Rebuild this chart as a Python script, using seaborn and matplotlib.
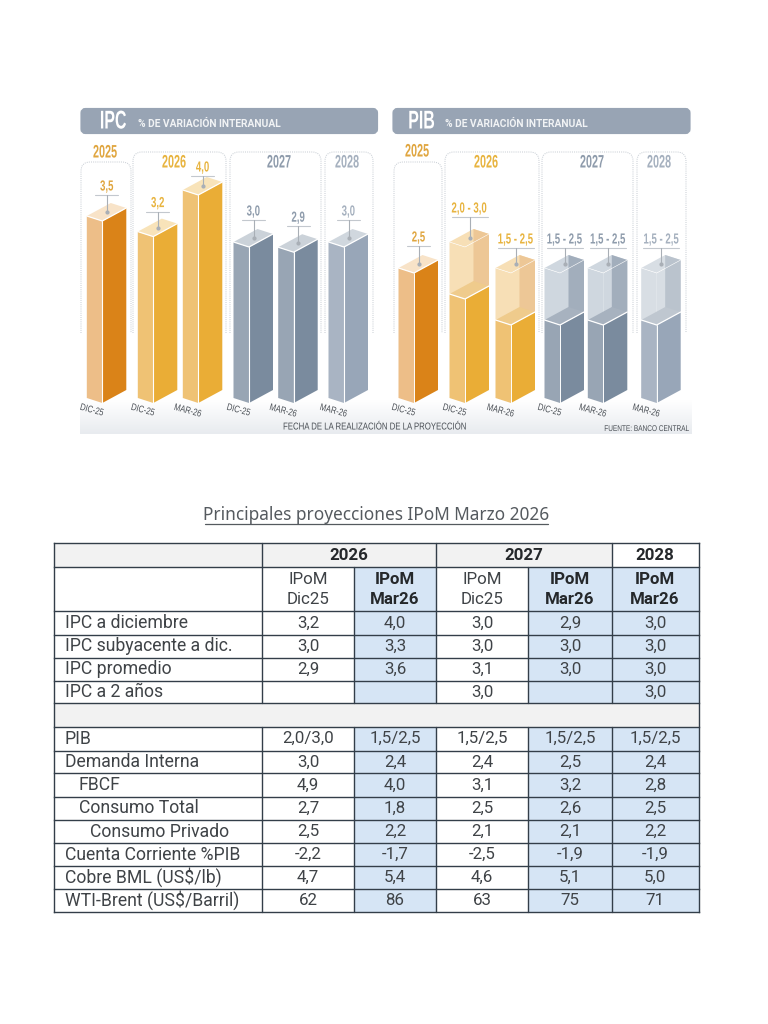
import matplotlib
matplotlib.use("Agg")
import matplotlib.pyplot as plt
from matplotlib.colors import LinearSegmentedColormap
from matplotlib.patches import FancyBboxPatch, PathPatch, Polygon, Rectangle
from matplotlib.path import Path
from matplotlib.patheffects import AbstractPathEffect
from matplotlib.transforms import Affine2D
import numpy as np
import seaborn as sns

# --- datos ---
ipc_years = ["2025", "2026", "2026", "2027", "2027", "2028"]
ipc_dates = ["DIC-25", "DIC-25", "MAR-26", "DIC-25", "MAR-26", "MAR-26"]
ipc_values = [3.5, 3.2, 4.0, 3.0, 2.9, 3.0]
ipc_labels = ["3,5", "3,2", "4,0", "3,0", "2,9", "3,0"]

pib_years = ["2025", "2026", "2026", "2027", "2027", "2028"]
pib_dates = ["DIC-25", "DIC-25", "MAR-26", "DIC-25", "MAR-26", "MAR-26"]
pib_low = [2.5, 2.0, 1.5, 1.5, 1.5, 1.5]
pib_high = [2.5, 3.0, 2.5, 2.5, 2.5, 2.5]
pib_labels = ["2,5", "2,0 - 3,0", "1,5 - 2,5", "1,5 - 2,5", "1,5 - 2,5", "1,5 - 2,5"]

row_labels = ["IPC a diciembre", "IPC subyacente a dic.", "IPC promedio", "IPC a 2 años", "",
              "PIB", "Demanda Interna", "FBCF", "Consumo Total", "Consumo Privado",
              "Cuenta Corriente %PIB", "Cobre BML (US$/lb)", "WTI-Brent (US$/Barril)"]
dic25_2026 = ["3,2", "3,0", "2,9", "", "", "2,0/3,0", "3,0", "4,9", "2,7", "2,5", "-2,2", "4,7", "62"]
mar26_2026 = ["4,0", "3,3", "3,6", "", "", "1,5/2,5", "2,4", "4,0", "1,8", "2,2", "-1,7", "5,4", "86"]
dic25_2027 = ["3,0", "3,0", "3,1", "3,0", "", "1,5/2,5", "2,4", "3,1", "2,5", "2,1", "-2,5", "4,6", "63"]
mar26_2027 = ["2,9", "3,0", "3,0", "", "", "1,5/2,5", "2,5", "3,2", "2,6", "2,1", "-1,9", "5,1", "75"]
mar26_2028 = ["3,0", "3,0", "3,0", "3,0", "", "1,5/2,5", "2,4", "2,8", "2,5", "2,2", "-1,9", "5,0", "71"]

# --- estilo y posiciones (en pixeles de la figura) ---
W, H = 768, 1024
BASE_Y = 403
TOP_Y = 95
PX_PER_UNIT = 52.0
LEFT_W, RIGHT_W = 15.5, 24.0
LEFT_DROP, RIGHT_RISE = 5.0, 13.0

ipc_corners = [102.3, 153.3, 198.3, 249, 293.7, 344]
pib_corners = [414, 465, 511, 560, 603.3, 656.7]
ipc_gaps = [26, 25, 19, 27, 26, 27]
pib_gaps = [27, 30, 25, 25, 25, 25]

year_colors = {
    "2025": dict(left="#EDBE88", right="#DA8318", top="#F8E3C8", text="#E0A640",
                 pale="#F7DFB6", back="#EDC796", level="#EFCB8C"),
    "2026": dict(left="#EFC274", right="#EAAD36", top="#F8E3B9", text="#E8B440",
                 pale="#F7DFB6", back="#EDC796", level="#EFCB8C"),
    "2027": dict(left="#98A5B4", right="#7A8B9E", top="#CBD2D9", text="#8F9CAC",
                 pale="#CFD7DF", back="#A2AEBC", level="#A7B2BF"),
    "2028": dict(left="#A9B4C3", right="#98A6B8", top="#D0D7DE", text="#A6B1BF",
                 pale="#D8DEE4", back="#BAC3CD", level="#BFC7D0"),
}

NARROW = "Liberation Sans"
TABLE_FONT = "Roboto"

sns.set_theme(style="white")
plt.rcParams["font.family"] = ["Noto Sans", "DejaVu Sans"]

fig = plt.figure(figsize=(W / 100, H / 100), dpi=100, facecolor="white")


class Narrow(AbstractPathEffect):
    # no hay fuente condensada instalada: se comprime el texto a lo ancho
    def __init__(self, factor, angle=0):
        super().__init__()
        self.factor = factor
        self.angle = angle

    def draw_path(self, renderer, gc, tpath, affine, rgbFace=None):
        box = affine.transform_path(tpath).get_extents()
        cx, cy = (box.x0 + box.x1) / 2, (box.y0 + box.y1) / 2
        squeeze = (Affine2D().translate(-cx, -cy).rotate_deg(-self.angle)
                   .scale(self.factor, 1).rotate_deg(self.angle).translate(cx, cy))
        renderer.draw_path(gc, tpath, affine + squeeze, rgbFace)


def narrow_text(ax, x, y, s, factor, **kws):
    t = ax.text(x, y, s, **kws)
    t.set_path_effects([Narrow(factor)])
    return t


def px_axes(x0, x1, y0, y1):
    # ejes cuyo rectangulo se da en pixeles (y hacia abajo)
    return fig.add_axes([x0 / W, 1 - y1 / H, (x1 - x0) / W, (y1 - y0) / H])


# capa de fondo en pixeles: cabeceras, llaves, tabla
bg = px_axes(0, W, 0, H)
bg.set_zorder(0)
grad = np.linspace(0, 1, 60).reshape(-1, 1)
grad_cmap = LinearSegmentedColormap.from_list("fondo", ["#FFFFFF", "#E8EBEF"])
bg.imshow(grad, extent=(80, 692, 434, 400), aspect="auto", cmap=grad_cmap, zorder=0)
bg.set_xlim(0, W)
bg.set_ylim(H, 0)
bg.axis("off")


def header(x0, x1, title, title_x, sub_x):
    bg.add_patch(FancyBboxPatch((x0 + 3, 110), x1 - x0 - 6, 22, boxstyle="round,pad=0,rounding_size=3",
                                mutation_aspect=1, linewidth=3, edgecolor="#98A4B4", facecolor="#98A4B4"))
    narrow_text(bg, title_x, 121.5, title, 0.62, color="white", fontsize=18.5, fontweight="bold", family=NARROW,
                ha="center", va="center")
    bg.text(sub_x, 124, "% DE VARIACIÓN INTERANUAL", color="#F1F3F5", fontsize=7.4, fontweight="bold",
            family="Roboto", ha="center", va="center")


def bracket(x0, x1, top):
    r = 9
    low = 333
    verts = [(x0, low), (x0, top + r), (x0, top), (x0 + r, top), (x1 - r, top), (x1, top), (x1, top + r), (x1, low)]
    codes = [Path.MOVETO, Path.LINETO, Path.CURVE3, Path.CURVE3, Path.LINETO, Path.CURVE3, Path.CURVE3, Path.LINETO]
    bg.add_patch(PathPatch(Path(verts, codes), fill=False, edgecolor="#C4CAD1", linewidth=0.7,
                           linestyle=(0, (1, 1.2))))


header(79.5, 379, "IPC", 113, 209)
header(391.5, 691.5, "PIB", 421.5, 516)

for x0, x1, top in [(81, 131, 162), (133, 226, 152), (230, 321, 152), (325, 373, 152),
                    (394, 442, 162), (445, 539, 152), (542, 633, 152), (637, 686, 152)]:
    bracket(x0, x1, top)

for x, y, year in [(105, 153, "2025"), (174, 163, "2026"), (279, 163, "2027"), (347, 163, "2028"),
                   (417, 152, "2025"), (486, 163, "2026"), (592, 163, "2027"), (659, 163, "2028")]:
    narrow_text(bg, x, y, year, 0.6, color=year_colors[year]["text"], fontsize=13, fontweight="bold",
                family=NARROW, ha="center", va="center")

narrow_text(bg, 375, 426.5, "FECHA DE LA REALIZACIÓN DE LA PROYECCIÓN", 0.78, color="#4A4F55", fontsize=7.2,
            family=NARROW, ha="center", va="center")
narrow_text(bg, 646.5, 429.5, "FUENTE: BANCO CENTRAL", 0.78, color="#4A4F55", fontsize=6,
            family=NARROW, ha="center", va="center")


def skew(ax, pivot, slope_px):
    # inclina una barra en torno a la arista frontal
    k = slope_px / PX_PER_UNIT
    return Affine2D(np.array([[1, 0, 0], [k, 1, -k * pivot], [0, 0, 1]])) + ax.transData


def add_faces(ax, corners, heights, bottoms, lefts, rights):
    # caras izquierda y derecha con barplot; luego se ubican e inclinan
    for offset, width, colors, slope in [(-LEFT_W, LEFT_W, lefts, -LEFT_DROP / LEFT_W),
                                         (0, RIGHT_W, rights, RIGHT_RISE / RIGHT_W)]:
        before = len(ax.patches)
        sns.barplot(x=corners, y=heights, native_scale=True, color="#999999", saturation=1, ax=ax)
        for bar, c, b, col in zip(ax.patches[before:], corners, bottoms, colors):
            bar.set_x(c + offset)
            bar.set_width(width)
            bar.set_y(b)
            bar.set_facecolor(col)
            bar.set_edgecolor("none")
            bar.set_linewidth(0)
            bar.set_transform(skew(ax, c, slope))


def top_face(ax, c, value, color, zorder=3, edge_lw=0.9):
    y = value
    dl, dr = LEFT_DROP / PX_PER_UNIT, RIGHT_RISE / PX_PER_UNIT
    pts = [(c, y), (c - LEFT_W, y + dl), (c - LEFT_W + RIGHT_W, y + dl + dr), (c + RIGHT_W, y + dr)]
    ax.add_patch(Polygon(pts, closed=True, facecolor=color, edgecolor="none", zorder=zorder, clip_on=False))
    ax.plot([c - LEFT_W, c, c + RIGHT_W], [y + dl, y, y + dr], color="white", lw=edge_lw, zorder=zorder + 1,
            solid_joinstyle="miter", clip_on=False)


def back_wall(ax, c, low, high, color):
    # pared posterior que se ve a traves de la parte translucida
    dl, dr = LEFT_DROP / PX_PER_UNIT, RIGHT_RISE / PX_PER_UNIT
    xb = c - LEFT_W + RIGHT_W
    frac = (xb - c) / RIGHT_W
    pts = [(xb, high + dl + dr), (c + RIGHT_W, high + dr), (c + RIGHT_W, low + dr), (xb, low + frac * dr)]
    ax.add_patch(Polygon(pts, closed=True, facecolor=color, edgecolor="none", zorder=3.5, clip_on=False))


def value_note(ax, c, value, label, gap, color, half):
    # etiqueta con linea horizontal y guia hasta la cara superior
    x = c + 4.5
    y_line = value + gap / PX_PER_UNIT
    y_end = value + 9 / PX_PER_UNIT
    ax.plot([x - half, x + half], [y_line, y_line], color="#C3C8CE", lw=0.8, zorder=6, clip_on=False)
    ax.plot([x, x], [y_line, y_end], color="#A9AFB6", lw=0.8, zorder=6, clip_on=False)
    ax.plot([x], [y_end], marker="o", ms=2, color="#A9AFB6", zorder=6, clip_on=False)
    narrow_text(ax, x, y_line + 1.5 / PX_PER_UNIT, label, 0.66, color=color, fontsize=10.5, fontweight="bold",
                family=NARROW, ha="center", va="bottom", clip_on=False)


def bars_axes(x0, x1):
    ax = px_axes(x0, x1, TOP_Y, BASE_Y)
    ax.set_zorder(1)
    ax.patch.set_alpha(0)
    return ax


def finish_axes(ax, x0, x1, corners, dates):
    ax.set_xlim(x0, x1)
    ax.set_ylim(0, (BASE_Y - TOP_Y) / PX_PER_UNIT)
    ax.set_yticks([])
    ax.set_ylabel("")
    ax.set_xlabel("")
    ax.set_xticks([c - 10.5 for c in corners])
    ax.set_xticklabels(dates, rotation=-15, fontsize=7, color="#4A4F55", family=NARROW, ha="center")
    ax.tick_params(axis="x", length=0, pad=-1.5)
    for tick in ax.get_xticklabels():
        tick.set_path_effects([Narrow(0.78, angle=-15)])
    sns.despine(ax=ax, left=True, bottom=True)


# --- IPC ---
ax_ipc = bars_axes(70, 390)
add_faces(ax_ipc, ipc_corners, ipc_values, [0] * 6,
          [year_colors[y]["left"] for y in ipc_years], [year_colors[y]["right"] for y in ipc_years])
for c, v, lab, gap, y in zip(ipc_corners, ipc_values, ipc_labels, ipc_gaps, ipc_years):
    top_face(ax_ipc, c, v, year_colors[y]["top"])
    ax_ipc.plot([c, c], [0, v], color="white", lw=0.8, zorder=4)
    value_note(ax_ipc, c, v, lab, gap, year_colors[y]["text"], 11.5)
finish_axes(ax_ipc, 70, 390, ipc_corners, ipc_dates)

# --- PIB ---
ax_pib = bars_axes(385, 705)
add_faces(ax_pib, pib_corners, pib_low, [0] * 6,
          [year_colors[y]["left"] for y in pib_years], [year_colors[y]["right"] for y in pib_years])
ghost = [i for i in range(6) if pib_high[i] > pib_low[i]]
add_faces(ax_pib, [pib_corners[i] for i in ghost], [pib_high[i] - pib_low[i] for i in ghost],
          [pib_low[i] for i in ghost],
          [year_colors[pib_years[i]]["pale"] for i in ghost], [year_colors[pib_years[i]]["pale"] for i in ghost])
for c, lo, hi, lab, gap, y in zip(pib_corners, pib_low, pib_high, pib_labels, pib_gaps, pib_years):
    cols = year_colors[y]
    if hi > lo:
        top_face(ax_pib, c, hi, cols["pale"], zorder=3, edge_lw=0.4)
        back_wall(ax_pib, c, lo, hi, cols["back"])
        top_face(ax_pib, c, lo, cols["level"], zorder=4)
    else:
        top_face(ax_pib, c, hi, cols["top"])
    ax_pib.plot([c, c], [0, lo], color="white", lw=0.7, zorder=6)
    value_note(ax_pib, c, hi, lab, gap, cols["text"], 18 if hi > lo else 11.5)
finish_axes(ax_pib, 385, 705, pib_corners, pib_dates)

# --- tabla ---
TEXT = "#3F4347"
LINE = "#333E49"
BLUE = "#D6E5F5"
GREY = "#F2F2F2"
TABLE_FS = 12.2
LABEL_FS = 12.7
col_x = [54, 262, 354, 436, 528.3, 611.7, 698.5]
row_y = [566.7, 611, 635, 657.7, 681, 703.3, 726.7, 750.7, 773.3, 796.7, 820, 843.3, 865.7, 889, 912]
indents = {"FBCF": 79, "Consumo Total": 79, "Consumo Privado": 90}
columns = [dic25_2026, mar26_2026, dic25_2027, mar26_2027, mar26_2028]

bg.add_patch(Rectangle((54, 542.7), 558, 24, facecolor=GREY, edgecolor="none"))
bg.add_patch(Rectangle((54, 703.3), 644.5, 23.4, facecolor=GREY, edgecolor="none"))
for j in (2, 4, 5):
    bg.add_patch(Rectangle((col_x[j], 566.7), col_x[j + 1] - col_x[j], 136.6, facecolor=BLUE, edgecolor="none"))
    bg.add_patch(Rectangle((col_x[j], 726.7), col_x[j + 1] - col_x[j], 185.3, facecolor=BLUE, edgecolor="none"))

for y in [542.7] + row_y:
    bg.plot([54, 698.5], [y, y], color=LINE, lw=1.0, solid_capstyle="projecting")
for x in (54, 698.5):
    bg.plot([x, x], [542.7, 912], color=LINE, lw=1.0, solid_capstyle="projecting")
for x in (262, 436, 611.7):
    bg.plot([x, x], [542.7, 703.3], color=LINE, lw=1.0)
    bg.plot([x, x], [726.7, 912], color=LINE, lw=1.0)
for x in (354, 528.3):
    bg.plot([x, x], [566.7, 703.3], color=LINE, lw=1.0)
    bg.plot([x, x], [726.7, 912], color=LINE, lw=1.0)

for x, year in [(349, "2026"), (523.8, "2027"), (655, "2028")]:
    bg.text(x, 555, year, color="#25282B", fontsize=TABLE_FS, fontweight="bold", family=TABLE_FONT,
            ha="center", va="center")

for j, (line1, line2, bold) in enumerate([("IPoM", "Dic25", False), ("IPoM", "Mar26", True), ("IPoM", "Dic25", False),
                                          ("IPoM", "Mar26", True), ("IPoM", "Mar26", True)]):
    xc = (col_x[j + 1] + col_x[j + 2]) / 2
    for yy, s in [(579, line1), (600, line2)]:
        bg.text(xc, yy, s, color="#25282B" if bold else TEXT, fontsize=TABLE_FS, family=TABLE_FONT,
                fontweight="bold" if bold else "normal", ha="center", va="center")

row_tops = row_y[1:-1]
row_bots = row_y[2:]
for i, lab in enumerate(row_labels):
    yc = (row_tops[i] + row_bots[i]) / 2
    if lab:
        bg.text(indents.get(lab, 65), yc, lab, color=TEXT, fontsize=LABEL_FS, family=TABLE_FONT, ha="left", va="center")
    for j, col in enumerate(columns):
        xc = (col_x[j + 1] + col_x[j + 2]) / 2
        if col[i]:
            bg.text(xc, yc, col[i], color=TEXT, fontsize=TABLE_FS, family=TABLE_FONT, ha="center", va="center")

bg.text(376.5, 515.5, "Principales proyecciones IPoM Marzo 2026", color="#555A5F", fontsize=12.4,
        ha="center", va="center")
bg.plot([205, 548], [524, 524], color="#555A5F", lw=0.9)

fig.savefig("out.png", dpi=100)
